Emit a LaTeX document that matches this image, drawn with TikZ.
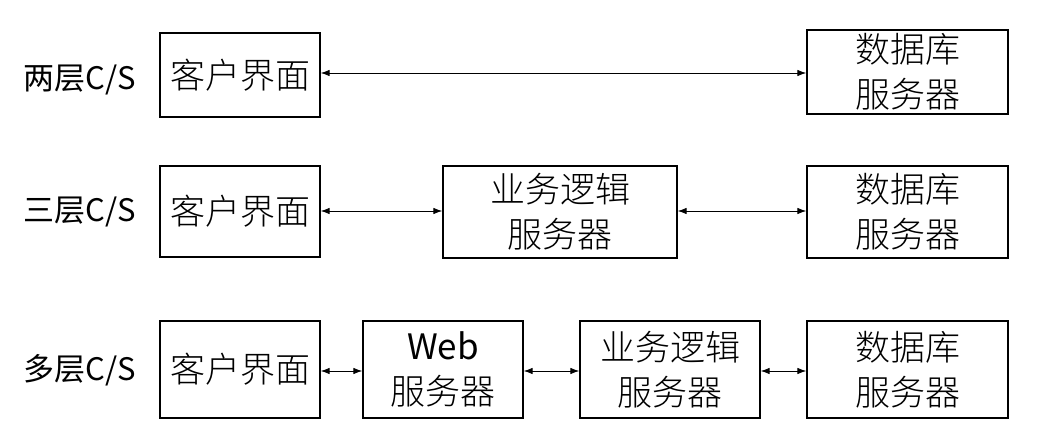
\documentclass[tikz,border=0pt]{standalone}
\usepackage{fontspec}
\usetikzlibrary{arrows.meta}
\newfontfamily\cjk{Noto Sans CJK SC}
\newfontfamily\cjklt{Noto Sans CJK SC}[UprightFont=* Light]
\begin{document}
\begin{tikzpicture}[x=1pt,y=-1pt,
  box/.style={draw=black,line width=1.3pt,inner sep=0pt,align=center,
    font=\cjklt\fontsize{35}{45}\selectfont},
  lbl/.style={inner sep=0pt,font=\cjk\fontsize{31}{34}\selectfont},
  conn/.style={line width=0.9pt,{Latex[length=9pt,width=6.5pt]}-{Latex[length=9pt,width=6.5pt]}}]
\useasboundingbox (0,0) rectangle (1037,436);
% row 1
\node[lbl] (l1) at (80,80) {两层C/S};
\node[box,minimum width=160pt,minimum height=84pt] (c1) at (240,75) {客户界面};
\node[box,minimum width=201pt,minimum height=84pt] (d1) at (907.5,72) {数据库\\服务器};
\draw[conn] (c1.east |- 0,73) -- (d1.west |- 0,73);
% row 2
\node[lbl] (l2) at (80,212) {三层C/S};
\node[box,minimum width=160pt,minimum height=91pt] (c2) at (240,211.5) {客户界面};
\node[box,minimum width=234pt,minimum height=92pt] (b2) at (560,212) {业务逻辑\\服务器};
\node[box,minimum width=201pt,minimum height=92pt] (d2) at (907.5,212) {数据库\\服务器};
\draw[conn] (c2.east |- 0,211) -- (b2.west |- 0,211);
\draw[conn] (b2.east |- 0,211) -- (d2.west |- 0,211);
% row 3
\node[lbl] (l3) at (80,370) {多层C/S};
\node[box,minimum width=160pt,minimum height=97pt] (c3) at (240,369.5) {客户界面};
\node[box,minimum width=160pt,minimum height=97pt] (w3) at (443,369.5) {{\cjk Web}\\服务器};
\node[box,minimum width=180pt,minimum height=97pt] (b3) at (670,369.5) {业务逻辑\\服务器};
\node[box,minimum width=201pt,minimum height=97pt] (d3) at (907.5,369.5) {数据库\\服务器};
\draw[conn] (c3.east |- 0,371) -- (w3.west |- 0,371);
\draw[conn] (w3.east |- 0,371) -- (b3.west |- 0,371);
\draw[conn] (b3.east |- 0,371) -- (d3.west |- 0,371);
\end{tikzpicture}
\end{document}
